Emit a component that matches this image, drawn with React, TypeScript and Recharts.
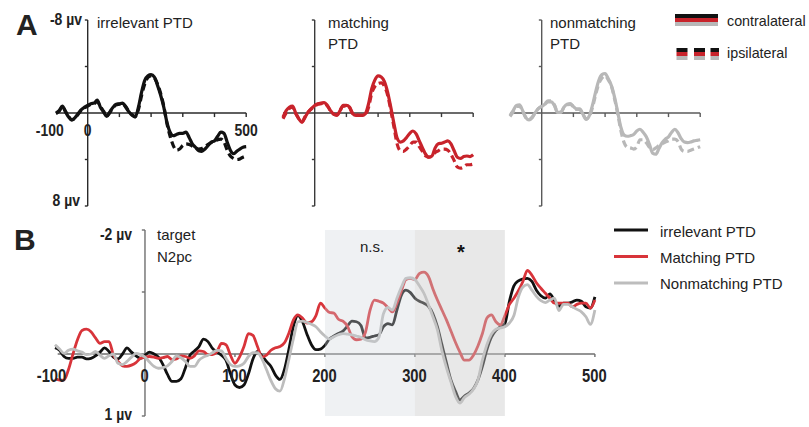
import React from 'react';
import { LineChart, Line, XAxis, YAxis, ReferenceLine, ReferenceArea } from 'recharts';

// ---------- Panel A (PTD, contra vs ipsi), time in ms, amplitude in µV ----------
const timeA = [-100, -90, -80, -70, -60, -50, -40, -30, -20, -10, 0, 10, 20, 30, 40, 50, 60, 70, 80, 90, 100, 110, 120, 130, 140, 150, 160, 170, 180, 190, 200, 210, 220, 230, 240, 250, 260, 270, 280, 290, 300, 310, 320, 330, 340, 350, 360, 370, 380, 390, 400, 410, 420, 430, 440, 450, 460, 470, 480, 490, 500];

const irrelevantContra = [0, -0.2, -0.6, -0.1, 0.35, 0.6, 0.4, 0.05, -0.3, -0.5, -0.65, -0.8, -0.85, -1.1, -0.5, -0.1, 0.3, -0.1, -0.5, -0.75, -0.8, -0.85, -0.5, -0.1, 0.2, 0.35, -0.5, -1.8, -2.8, -3.2, -3.3, -3.1, -2.4, -1.55, -0.5, 0.8, 1.65, 1.95, 1.85, 1.75, 1.75, 1.65, 2.1, 2.65, 2.95, 3.25, 3.3, 3.1, 2.8, 2.5, 2.4, 2.0, 1.65, 1.75, 2.5, 3.2, 3.5, 3.3, 3.1, 2.95, 2.9];
const irrelevantIpsi = [0.05, -0.15, -0.55, -0.15, 0.3, 0.6, 0.45, 0.1, -0.25, -0.45, -0.6, -0.75, -0.8, -1.0, -0.55, -0.15, 0.25, -0.05, -0.45, -0.7, -0.75, -0.8, -0.55, -0.15, 0.15, 0.3, -0.3, -1.5, -2.5, -3.05, -3.2, -3.05, -2.5, -1.7, -0.6, 0.9, 2.0, 2.8, 3.2, 3.1, 2.8, 2.65, 2.7, 2.85, 3.0, 3.1, 3.05, 2.9, 2.7, 2.55, 2.45, 2.3, 2.25, 2.5, 3.2, 3.7, 3.9, 4.0, 3.95, 3.8, 3.7];

const matchingContra = [0.35, -0.2, -0.5, -0.6, 0, 0.5, 0.8, 0.35, -0.1, -0.4, -0.65, -0.8, -0.85, -0.9, -0.65, -0.2, 0.1, 0.2, -0.2, -0.65, -0.65, -0.5, 0.05, 0.2, 0.2, 0.2, 0.05, -0.8, -2.1, -2.85, -3.2, -3.1, -2.7, -1.8, -0.5, 0.9, 2.15, 2.5, 2.4, 2.1, 1.75, 1.55, 1.8, 2.4, 3.0, 3.55, 3.8, 3.7, 3.0, 2.65, 2.6, 2.5, 2.4, 2.65, 3.25, 3.8, 3.9, 3.75, 3.7, 3.75, 3.6];
const matchingIpsi = [0.5, 0.0, -0.4, -0.5, 0.05, 0.5, 0.75, 0.3, -0.1, -0.35, -0.6, -0.75, -0.8, -0.85, -0.6, -0.2, 0.1, 0.15, -0.25, -0.6, -0.6, -0.45, 0.05, 0.15, 0.2, 0.2, 0.1, -0.5, -1.7, -2.3, -2.55, -2.6, -2.3, -1.55, -0.25, 1.2, 2.65, 3.25, 3.3, 3.1, 2.8, 2.5, 2.5, 2.9, 3.3, 3.7, 3.8, 3.7, 3.4, 3.25, 3.1, 3.1, 3.2, 3.55, 4.1, 4.65, 4.75, 4.65, 4.45, 4.45, 4.4];

const nonmatchingContra = [0.2, -0.2, -0.65, -0.7, -0.2, 0.4, 0.6, 0.4, -0.05, -0.4, -0.55, -0.75, -0.95, -0.95, -0.65, -0.05, -0.05, -0.5, -0.75, -0.8, -0.55, -0.35, -0.35, 0.1, 0.55, 0.25, -0.65, -1.8, -2.8, -3.3, -3.4, -2.95, -2.35, -1.35, -0.05, 1.25, 1.9, 2.0, 1.95, 1.85, 1.55, 1.4, 1.65, 2.05, 2.7, 3.45, 3.55, 3.05, 2.55, 2.25, 2.05, 1.65, 1.4, 1.7, 2.2, 2.5, 2.55, 2.5, 2.4, 2.35, 2.3];
const nonmatchingIpsi = [0.3, -0.1, -0.55, -0.6, -0.15, 0.4, 0.55, 0.35, -0.05, -0.4, -0.6, -0.8, -1.05, -1.05, -0.7, -0.1, -0.05, -0.45, -0.7, -0.75, -0.55, -0.3, -0.3, 0.1, 0.5, 0.3, -0.45, -1.55, -2.5, -3.0, -3.2, -2.85, -2.3, -1.2, 0.1, 1.55, 2.55, 2.95, 3.0, 3.1, 2.9, 2.3, 2.3, 2.55, 2.95, 3.15, 3.0, 2.8, 2.65, 2.5, 2.4, 2.25, 2.25, 2.45, 3.1, 3.3, 3.3, 3.2, 3.1, 3.0, 2.9];

const ticksAX = [100, 200, 300, 400, 500];
const ticksAY = [-8, -4, 4, 8];
const tickLabelsA = [-100, 0, 500];

// ---------- Panel B (target N2pc) ----------
const timeB = [-100, -95, -90, -85, -80, -75, -70, -65, -60, -55, -50, -45, -40, -35, -30, -25, -20, -15, -10, -5, 0, 5, 10, 15, 20, 25, 30, 35, 40, 45, 50, 55, 60, 65, 70, 75, 80, 85, 90, 95, 100, 105, 110, 115, 120, 125, 130, 135, 140, 145, 150, 155, 160, 165, 170, 175, 180, 185, 190, 195, 200, 205, 210, 215, 220, 225, 230, 235, 240, 245, 250, 255, 260, 265, 270, 275, 280, 285, 290, 295, 300, 305, 310, 315, 320, 325, 330, 335, 340, 345, 350, 355, 360, 365, 370, 375, 380, 385, 390, 395, 400, 405, 410, 415, 420, 425, 430, 435, 440, 445, 450, 455, 460, 465, 470, 475, 480, 485, 490, 495, 500];

const targetIrrelevant = [-0.10, -0.06, 0.04, 0.07, 0.07, 0.05, 0.05, 0.08, 0.07, 0.03, -0.03, -0.10, -0.04, 0.05, 0.08, 0.00, -0.10, -0.03, 0.03, 0.07, 0.02, -0.03, 0.00, 0.05, 0.17, 0.33, 0.44, 0.44, 0.40, 0.22, 0.02, -0.05, -0.12, -0.24, -0.20, -0.09, -0.03, 0.02, 0.10, 0.32, 0.50, 0.54, 0.50, 0.32, 0.08, -0.04, 0.03, 0.12, 0.20, 0.34, 0.41, 0.25, -0.08, -0.45, -0.62, -0.52, -0.32, -0.15, -0.07, -0.08, -0.14, -0.24, -0.29, -0.33, -0.37, -0.45, -0.53, -0.52, -0.46, -0.26, -0.27, -0.29, -0.31, -0.44, -0.49, -0.47, -0.71, -0.95, -1.03, -0.99, -0.90, -0.85, -0.82, -0.77, -0.65, -0.44, -0.15, 0.14, 0.42, 0.60, 0.74, 0.68, 0.63, 0.56, 0.42, 0.20, -0.07, -0.27, -0.38, -0.44, -0.49, -0.85, -1.10, -1.18, -1.21, -1.22, -1.17, -1.03, -0.94, -0.90, -0.97, -0.86, -0.77, -0.82, -0.82, -0.84, -0.87, -0.85, -0.76, -0.74, -0.92];

const targetMatching = [0.40, 0.42, 0.42, 0.25, 0.00, -0.23, -0.38, -0.40, -0.36, -0.26, -0.17, -0.20, -0.20, 0.02, 0.12, 0.19, 0.20, 0.18, 0.14, 0.07, 0.05, 0.04, 0.05, 0.07, 0.06, 0.04, 0.09, 0.08, 0.03, 0.04, 0.07, 0.03, -0.05, -0.04, 0.01, 0.01, -0.04, -0.17, -0.15, 0.02, 0.15, 0.05, -0.12, -0.33, -0.30, -0.12, 0.05, 0.02, -0.06, -0.10, -0.12, -0.18, -0.34, -0.55, -0.63, -0.58, -0.50, -0.52, -0.62, -0.82, -0.74, -0.67, -0.66, -0.56, -0.53, -0.45, -0.28, -0.23, -0.24, -0.35, -0.70, -0.87, -0.85, -0.82, -0.75, -0.68, -0.82, -1.02, -1.20, -1.22, -1.20, -1.30, -1.32, -1.25, -1.05, -0.87, -0.71, -0.55, -0.37, -0.19, -0.03, 0.10, 0.10, 0.02, -0.13, -0.33, -0.58, -0.63, -0.52, -0.47, -0.62, -0.80, -0.90, -1.02, -1.17, -1.35, -1.27, -1.15, -1.06, -0.98, -0.90, -0.82, -0.82, -0.82, -0.82, -0.76, -0.80, -0.82, -0.82, -0.74, -0.87];

const targetNonmatching = [-0.15, -0.08, -0.01, -0.06, -0.08, -0.05, -0.03, 0.01, 0.00, -0.04, 0.02, 0.07, 0.03, 0.00, 0.15, 0.17, 0.12, 0.05, -0.01, 0.01, 0.05, 0.13, 0.20, 0.23, 0.22, 0.19, 0.12, 0.03, 0.06, 0.12, 0.20, 0.20, 0.10, 0.05, 0.02, -0.02, -0.06, -0.05, 0.07, 0.17, 0.20, 0.19, 0.15, 0.04, -0.02, -0.02, 0.08, 0.25, 0.43, 0.56, 0.60, 0.40, 0.08, -0.25, -0.52, -0.53, -0.51, -0.48, -0.44, -0.36, -0.29, -0.24, -0.28, -0.31, -0.33, -0.32, -0.31, -0.29, -0.27, -0.23, -0.21, -0.20, -0.27, -0.65, -0.75, -0.71, -0.90, -1.08, -1.22, -1.23, -1.20, -1.10, -0.98, -0.80, -0.60, -0.39, -0.05, 0.22, 0.45, 0.68, 0.79, 0.70, 0.65, 0.57, 0.42, 0.10, -0.15, -0.32, -0.40, -0.42, -0.44, -0.50, -0.62, -0.92, -1.08, -1.12, -1.03, -0.93, -0.86, -0.83, -0.87, -0.90, -0.70, -0.80, -0.80, -0.76, -0.72, -0.68, -0.60, -0.48, -0.71];

const ticksBX = [100, 200, 300, 400, 500];
const ticksBY = [-2, -1, 1];
const tickLabelsB = [-100, 0, 100, 200, 300, 400, 500];
const legendB = ['irrelevant PTD', 'Matching PTD', 'Nonmatching PTD'];

// ---------- geometry / style ----------
const FONT = 'Arial, "Liberation Sans", sans-serif';
const RED_A = '#c8232b';
const GRAY_A = '#b8b8b8';
const BLACK = '#111111';
const RED_B = '#d8343a';
const GRAY_B = '#bdbdbd';

const A_W = 190.2;
const A_H = 186;
const M = 20;

type PanelAProps = { contra: number[]; ipsi: number[]; color: string; axisColor: string; left: number };

function PanelA({ contra, ipsi, color, axisColor, left }: PanelAProps) {
  const data = timeA.map((t, i) => ({ t, contra: contra[i], ipsi: ipsi[i] }));
  return (
    <div style={{ position: 'absolute', left, top: 0 }}>
      <LineChart width={A_W + 2 * M} height={A_H + 2 * M} data={data} margin={{ top: M, right: M, bottom: M, left: M }}>
        <XAxis type="number" dataKey="t" domain={[-100, 500]} hide />
        <YAxis type="number" domain={[-8, 8]} reversed hide />
        <ReferenceLine segment={[{ x: -100, y: 0 }, { x: 500, y: 0 }]} stroke={axisColor} strokeWidth={1.4} />
        <ReferenceLine segment={[{ x: 0, y: -8 }, { x: 0, y: 8 }]} stroke={axisColor} strokeWidth={1.4} />
        {ticksAY.map((v) => (
          <ReferenceLine key={'y' + v} segment={[{ x: -9, y: v }, { x: 0, y: v }]} stroke={axisColor} strokeWidth={1.4} />
        ))}
        {ticksAX.map((v) => (
          <ReferenceLine key={'x' + v} segment={[{ x: v, y: 0 }, { x: v, y: 0.35 }]} stroke={axisColor} strokeWidth={1.4} />
        ))}
        <Line type="monotone" dataKey="ipsi" stroke={color} strokeWidth={3.2} strokeDasharray="7 4" dot={false} isAnimationActive={false} />
        <Line type="monotone" dataKey="contra" stroke={color} strokeWidth={3.2} dot={false} isAnimationActive={false} />
      </LineChart>
    </div>
  );
}

const B_W = 539.9;
const B_H = 186;

function PanelB() {
  const data = timeB.map((t, i) => ({
    t,
    irrelevant: targetIrrelevant[i],
    matching: targetMatching[i],
    nonmatching: targetNonmatching[i],
  }));
  const axisColor = '#6f6f6f';
  return (
    <div style={{ position: 'absolute', left: 54.5 - M, top: 230 - M }}>
      <LineChart width={B_W + 2 * M} height={B_H + M + 10} data={data} margin={{ top: M, right: M, bottom: 10, left: M }}>
        <XAxis type="number" dataKey="t" domain={[-100, 500]} hide />
        <YAxis type="number" domain={[-2, 1]} reversed hide />
        <ReferenceLine segment={[{ x: -97, y: 0 }, { x: 500, y: 0 }]} stroke={axisColor} strokeWidth={1.4} />
        <ReferenceLine segment={[{ x: 0, y: -2 }, { x: 0, y: 1 }]} stroke={axisColor} strokeWidth={1.4} />
        {ticksBY.map((v) => (
          <ReferenceLine key={'y' + v} segment={[{ x: -3.5, y: v }, { x: 0, y: v }]} stroke={axisColor} strokeWidth={1.4} />
        ))}
        {ticksBX.map((v) => (
          <ReferenceLine key={'x' + v} segment={[{ x: v, y: 0 }, { x: v, y: 0.05 }]} stroke={axisColor} strokeWidth={1.4} />
        ))}
        <Line type="monotone" dataKey="irrelevant" stroke={BLACK} strokeWidth={2.8} dot={false} isAnimationActive={false} />
        <Line type="monotone" dataKey="matching" stroke={RED_B} strokeWidth={2.8} dot={false} isAnimationActive={false} />
        <Line type="monotone" dataKey="nonmatching" stroke={GRAY_B} strokeWidth={2.8} dot={false} isAnimationActive={false} />
        <ReferenceArea x1={200} x2={300} y1={-2} y2={1} fill="#cfd4da" fillOpacity={0.33} stroke="none" zIndex={600} />
        <ReferenceArea x1={300} x2={400} y1={-2} y2={1} fill="#c9c9c9" fillOpacity={0.42} stroke="none" zIndex={600} />
      </LineChart>
    </div>
  );
}

// x positions (px) of tick labels for overlay text, derived from panel scales
const ax = (left: number, t: number) => left + ((t + 100) / 600) * A_W;
const bx = (t: number) => 54.5 + ((t + 100) / 600) * B_W;

type CondProps = { x: number; y: number; size: number; anchor?: 'start' | 'middle' | 'end'; children: React.ReactNode };
// bold, slightly condensed tick text (as in the original figure)
function Cond({ x, y, size, anchor = 'middle', children }: CondProps) {
  return (
    <text
      transform={`translate(${x},${y}) scale(0.82,1)`}
      textAnchor={anchor}
      style={{ fontFamily: FONT, fontWeight: 700, fontSize: size }}
      fill="#222"
    >
      {children}
    </text>
  );
}

function Overlay() {
  const txt = { fontFamily: FONT, fontSize: 15, fill: '#222' } as const;
  const legTxt = { fontFamily: FONT, fontSize: 14.3, fill: '#222' } as const;
  return (
    <svg width={809} height={427} style={{ position: 'absolute', left: 0, top: 0, pointerEvents: 'none' }}>
      {/* Panel letters */}
      <text x={16} y={35} style={{ fontFamily: FONT, fontWeight: 700, fontSize: 30 }} fill="#222">A</text>
      <text x={14} y={250} style={{ fontFamily: FONT, fontWeight: 700, fontSize: 30 }} fill="#222">B</text>

      {/* Panel A labels */}
      <Cond x={82} y={24.5} size={17} anchor="end">-8 µv</Cond>
      <Cond x={80} y={206} size={17} anchor="end">8 µv</Cond>
      {tickLabelsA.map((t) => (
        <Cond key={'a' + t} x={ax(55.8, t) + (t === -100 ? -6 : 0)} y={135.5} size={17}>{t}</Cond>
      ))}
      <text x={97} y={28} style={txt}>irrelevant PTD</text>
      <text x={328} y={28} style={txt}>matching</text>
      <text x={328} y={49} style={txt}>PTD</text>
      <text x={550} y={28} style={txt}>nonmatching</text>
      <text x={550} y={49} style={txt}>PTD</text>

      {/* Panel A legend */}
      <rect x={675} y={14} width={43} height={4} fill={BLACK} />
      <rect x={675} y={18} width={43} height={4} fill={RED_A} />
      <rect x={675} y={22} width={43} height={4} fill={GRAY_A} />
      {[676.5, 694, 710.5].map((x) => (
        <g key={x}>
          <rect x={x} y={48} width={x === 710.5 ? 8.5 : 11} height={4} fill={BLACK} />
          <rect x={x} y={52} width={x === 710.5 ? 8.5 : 11} height={4} fill={RED_A} />
          <rect x={x} y={56} width={x === 710.5 ? 8.5 : 11} height={4} fill={GRAY_A} />
        </g>
      ))}
      <text x={727} y={26} style={legTxt}>contralateral</text>
      <text x={727} y={58} style={legTxt}>ipsilateral</text>

      {/* Panel B labels */}
      <Cond x={132} y={240} size={17} anchor="end">-2 µv</Cond>
      <Cond x={132} y={420} size={17} anchor="end">1 µv</Cond>
      <text x={157} y={240} style={txt}>target</text>
      <text x={157} y={262} style={txt}>N2pc</text>
      <text x={372} y={252} textAnchor="middle" style={txt}>n.s.</text>
      <text x={461} y={259} textAnchor="middle" style={{ fontFamily: FONT, fontWeight: 700, fontSize: 20 }} fill="#111">*</text>
      {tickLabelsB.map((t) => (
        <Cond key={'b' + t} x={bx(t) + (t === -100 ? -3 : 0)} y={382} size={18}>{t}</Cond>
      ))}

      {/* Panel B legend */}
      {legendB.map((name, i) => (
        <g key={name}>
          <line x1={614} x2={648} y1={230 + i * 26.5} y2={230 + i * 26.5} stroke={[BLACK, RED_B, GRAY_B][i]} strokeWidth={3} />
          <text x={660} y={237 + i * 26} style={txt}>{name}</text>
        </g>
      ))}
    </svg>
  );
}

export default function App() {
  return (
    <div style={{ position: 'absolute', left: 0, top: 0, width: 809, height: 427, overflow: 'hidden', background: '#fff' }}>
      <PanelA contra={irrelevantContra} ipsi={irrelevantIpsi} color={BLACK} axisColor="#2a2a2a" left={55.8 - M} />
      <PanelA contra={matchingContra} ipsi={matchingIpsi} color={RED_A} axisColor="#3a3a3a" left={282.6 - M} />
      <PanelA contra={nonmatchingContra} ipsi={nonmatchingIpsi} color={GRAY_A} axisColor="#5a5a5a" left={510 - M} />
      <PanelB />
      <Overlay />
    </div>
  );
}
